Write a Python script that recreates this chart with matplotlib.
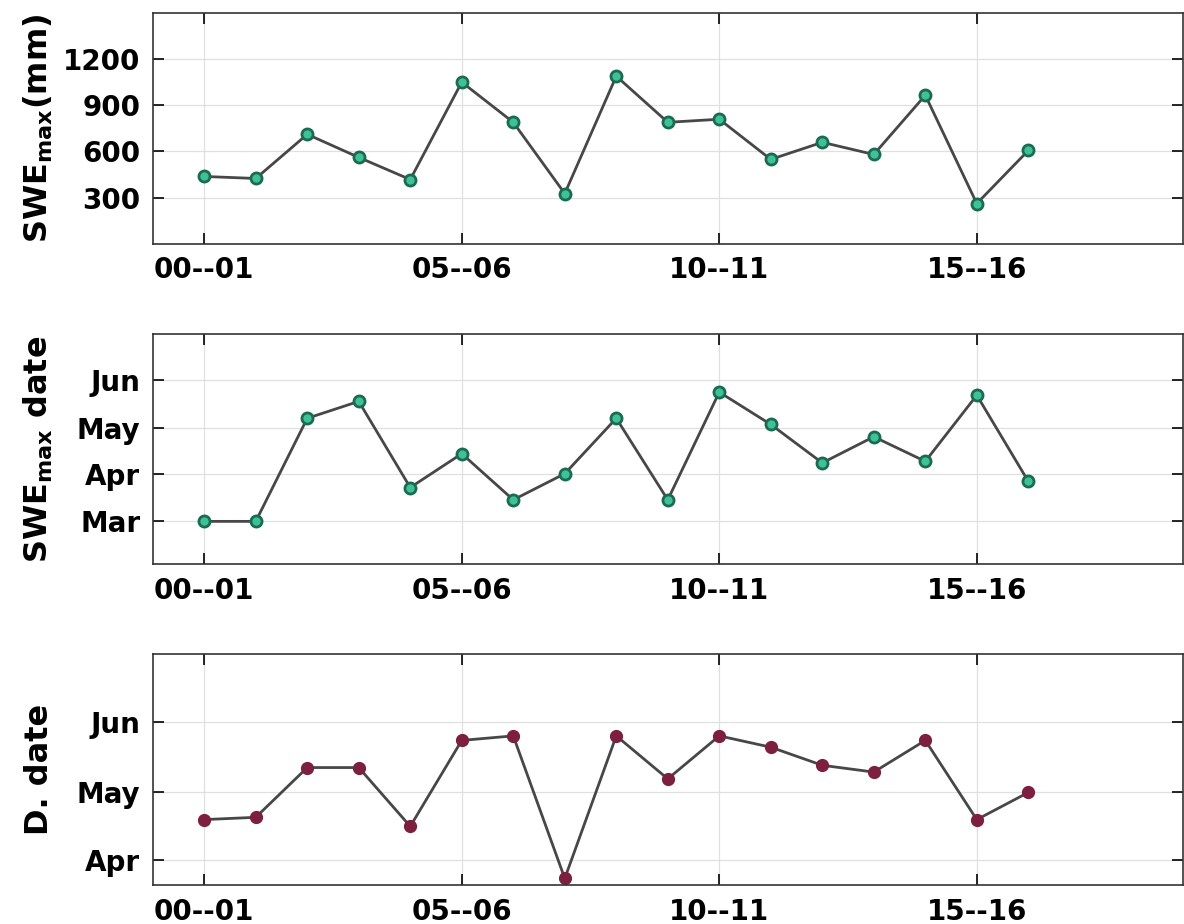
import matplotlib
matplotlib.use("Agg")
import matplotlib.pyplot as plt
import numpy as np
import datetime as dt

plt.rcParams['font.family'] = 'DejaVu Sans'
plt.rcParams['font.weight'] = 'bold'
plt.rcParams['mathtext.fontset'] = 'dejavusans'

# hydrological seasons 2000-01 ... 2016-17
seasons = np.arange(17)
xtick_pos = [0, 5, 10, 15]
xtick_labels = ['00--01', '05--06', '10--11', '15--16']

swe_max = [437, 424, 711, 561, 417, 1050, 789, 326, 1089, 789, 809, 548, 659, 580, 965, 261, 606]

swe_max_date = ['03-01', '03-01', '05-07', '05-18', '03-23', '04-14', '03-15', '04-01', '05-07',
                '03-15', '05-24', '05-03', '04-08', '04-25', '04-09', '05-22', '03-27']

disap_date = ['04-19', '04-20', '05-12', '05-12', '04-16', '05-24', '05-26', '03-24', '05-26',
              '05-07', '05-26', '05-21', '05-13', '05-10', '05-24', '04-19', '05-01']


def doy(md):
    """ month-day string -> day of year (non-leap) """
    return dt.datetime.strptime('2001-' + md, '%Y-%m-%d').timetuple().tm_yday


teal = '#3fc197'
teal_edge = '#1b6b52'
maroon = '#7d1f3e'
line_col = '#474747'


def style(ax):
    ax.set_xlim(-1, 19)
    ax.set_xticks(xtick_pos)
    ax.set_xticklabels(xtick_labels)
    ax.tick_params(direction='in', length=8, width=1.2, top=True, right=True,
                   labelsize=20, pad=9)
    ax.grid(True, color='#e0e0e0', linewidth=0.9)
    ax.set_axisbelow(True)
    for s in ax.spines.values():
        s.set_color('#333333')
        s.set_linewidth(1.2)


fig, axes = plt.subplots(3, 1, figsize=(11.84, 9.24), dpi=100)
fig.subplots_adjust(left=0.129, right=0.999, top=0.986, bottom=0.042, hspace=0.39)

ax = axes[0]
ax.plot(seasons, swe_max, '-o', color=line_col, lw=2, ms=8, mfc=teal, mec=teal_edge, mew=2)
ax.set_ylim(0, 1500)
ax.set_yticks([300, 600, 900, 1200])
style(ax)
ax.set_ylabel(r'$\mathbf{SWE}_{\mathrm{max}}\mathbf{(mm)}$', fontsize=23, labelpad=6)

ax = axes[1]
ax.plot(seasons, [doy(d) for d in swe_max_date], '-o', color=line_col, lw=2, ms=8,
        mfc=teal, mec=teal_edge, mew=2)
ax.set_ylim(doy('02-01'), doy('07-01'))
ax.set_yticks([doy('03-01'), doy('04-01'), doy('05-01'), doy('06-01')])
ax.set_yticklabels(['Mar', 'Apr', 'May', 'Jun'])
style(ax)
ax.set_ylabel(r'$\mathbf{SWE}_{\mathrm{max}}\ \mathbf{date}$', fontsize=23, labelpad=6)

ax = axes[2]
ax.plot(seasons, [doy(d) for d in disap_date], '-o', color=line_col, lw=2, ms=8,
        mfc=maroon, mec=maroon, mew=1.5, clip_on=False)
ax.set_ylim(doy('03-21'), doy('07-01'))
ax.set_yticks([doy('04-01'), doy('05-01'), doy('06-01')])
ax.set_yticklabels(['Apr', 'May', 'Jun'])
style(ax)
ax.set_ylabel('D. date', fontsize=23, fontweight='bold', labelpad=6)

fig.align_ylabels(axes)
fig.savefig('out.png', dpi=100)
